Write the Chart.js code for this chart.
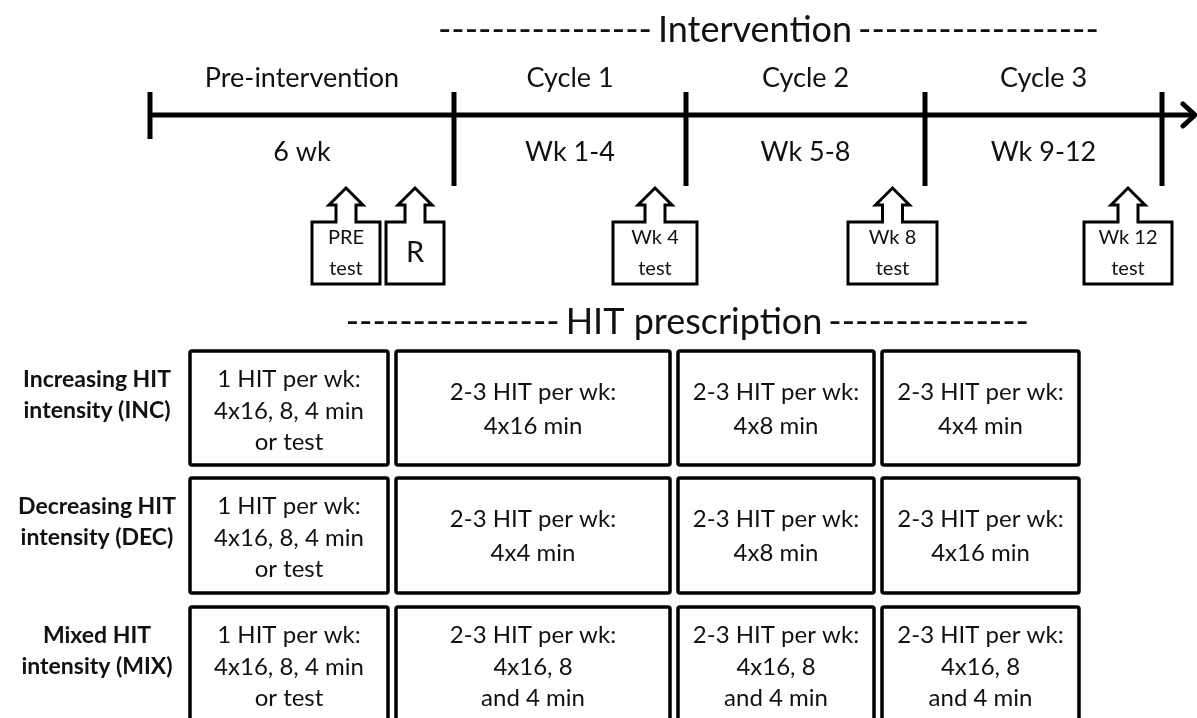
<!DOCTYPE html>
<html>
<head>
<meta charset="utf-8">
<script src="https://cdn.jsdelivr.net/npm/chart.js@4.4.1/dist/chart.umd.min.js"></script>
<style>
  html, body { margin: 0; padding: 0; background: #fff; overflow: hidden; }
</style>
</head>
<body>
<canvas id="chart" width="1197" height="718"></canvas>
<script>
// chart content
const headers = ['Intervention', 'HIT prescription'];
const phases = ['Pre-intervention', 'Cycle 1', 'Cycle 2', 'Cycle 3'];
const durations = ['6 wk', 'Wk 1-4', 'Wk 5-8', 'Wk 9-12'];
const tests = [['PRE', 'test'], ['R'], ['Wk 4', 'test'], ['Wk 8', 'test'], ['Wk 12', 'test']];
const groups = [['Increasing HIT', 'intensity (INC)'], ['Decreasing HIT', 'intensity (DEC)'], ['Mixed HIT', 'intensity (MIX)']];
const preRx = ['1 HIT per wk:', '4x16, 8, 4 min', 'or test'];
const cycleRx = '2-3 HIT per wk:';
const incCycles = [['4x16 min'], ['4x8 min'], ['4x4 min']];
const decCycles = [['4x4 min'], ['4x8 min'], ['4x16 min']];
const mixCycles = [['4x16, 8', 'and 4 min'], ['4x16, 8', 'and 4 min'], ['4x16, 8', 'and 4 min']];

// layout, in axis units (axes span the whole canvas)
const L = {
  bounds: [150, 454, 686, 925, 1162],
  arrowTip: 1195, lineY: 115, tickTop: 92, tickBot: 186, firstTickBot: 139,
  phaseY: 78, durY: 152,
  tests: [[312, 380], [386, 444], [613, 697], [848, 937], [1084, 1172]],
  testTop: 222, testBot: 284, headBase: 205, tip: 188, shaftHalf: 10, headHalf: 17,
  cols: [[190, 388], [396, 670], [678, 874], [882, 1079]],
  rows: [[351, 465], [478, 593], [607, 721]],
  labelX: 97,
  head1: { y: 30, left: 437, right: 1101, cx: 755 },
  head2: { y: 322, left: 339, right: 1032, cx: 694 }
};

const FONT = 'Lato, "Open Sans", sans-serif';
const INK = '#111';

function dashedHeader(ctx, sx, sy, text, h) {
  ctx.font = '36px ' + FONT;
  ctx.fillStyle = INK;
  ctx.textBaseline = 'middle';
  const y = sy(h.y);
  const tw = ctx.measureText(text).width;
  const cx = sx(h.cx);
  ctx.textAlign = 'center';
  ctx.fillText(text, cx, y);
  const dw = ctx.measureText('-').width;
  const gap = 6;
  const nL = Math.floor((cx - tw / 2 - gap - sx(h.left)) / dw);
  const nR = Math.floor((sx(h.right) - cx - tw / 2 - gap) / dw);
  ctx.textAlign = 'right';
  ctx.fillText('-'.repeat(nL), cx - tw / 2 - gap, y);
  ctx.textAlign = 'left';
  ctx.fillText('-'.repeat(nR), cx + tw / 2 + gap, y);
}

function lines(ctx, arr, x, yMid, lh) {
  const y0 = yMid - (arr.length - 1) * lh / 2;
  arr.forEach((t, i) => ctx.fillText(t, x, y0 + i * lh));
}

const diagram = {
  id: 'diagram',
  afterDatasetsDraw(chart) {
    const ctx = chart.ctx;
    const sx = v => chart.scales.x.getPixelForValue(v);
    const sy = v => chart.scales.y.getPixelForValue(v);
    ctx.save();

    // ticks on the timeline
    ctx.strokeStyle = '#000';
    ctx.lineWidth = 5;
    ctx.lineCap = 'butt';
    L.bounds.forEach((b, i) => {
      ctx.beginPath();
      ctx.moveTo(sx(b), sy(L.tickTop));
      ctx.lineTo(sx(b), sy(i === 0 ? L.firstTickBot : L.tickBot));
      ctx.stroke();
    });
    // arrow head
    ctx.lineCap = 'round';
    ctx.lineJoin = 'miter';
    ctx.beginPath();
    ctx.moveTo(sx(L.arrowTip - 12), sy(L.lineY - 11));
    ctx.lineTo(sx(L.arrowTip), sy(L.lineY));
    ctx.lineTo(sx(L.arrowTip - 12), sy(L.lineY + 11));
    ctx.stroke();

    // headers
    dashedHeader(ctx, sx, sy, headers[0], L.head1);
    dashedHeader(ctx, sx, sy, headers[1], L.head2);

    // phase names and durations
    ctx.font = '27px ' + FONT;
    ctx.textAlign = 'center';
    ctx.textBaseline = 'middle';
    ctx.fillStyle = INK;
    phases.forEach((p, i) => {
      const cx = sx((L.bounds[i] + L.bounds[i + 1]) / 2);
      ctx.fillText(p, cx, sy(L.phaseY));
      ctx.fillText(durations[i], cx, sy(L.durY));
    });

    // test markers
    ctx.lineWidth = 3;
    ctx.lineJoin = 'miter';
    ctx.lineCap = 'butt';
    tests.forEach((t, i) => {
      const [x0, x1] = L.tests[i];
      const c = (x0 + x1) / 2;
      ctx.beginPath();
      ctx.moveTo(sx(x0), sy(L.testBot));
      ctx.lineTo(sx(x0), sy(L.testTop));
      ctx.lineTo(sx(c - L.shaftHalf), sy(L.testTop));
      ctx.lineTo(sx(c - L.shaftHalf), sy(L.headBase));
      ctx.lineTo(sx(c - L.headHalf), sy(L.headBase));
      ctx.lineTo(sx(c), sy(L.tip));
      ctx.lineTo(sx(c + L.headHalf), sy(L.headBase));
      ctx.lineTo(sx(c + L.shaftHalf), sy(L.headBase));
      ctx.lineTo(sx(c + L.shaftHalf), sy(L.testTop));
      ctx.lineTo(sx(x1), sy(L.testTop));
      ctx.lineTo(sx(x1), sy(L.testBot));
      ctx.closePath();
      ctx.stroke();
      const mid = sy((L.testTop + L.testBot) / 2);
      if (t.length === 1) {
        ctx.font = '29px ' + FONT;
        ctx.fillText(t[0], sx(c), mid);
      } else {
        ctx.font = '20px ' + FONT;
        lines(ctx, t, sx(c), mid, 31);
      }
    });

    // prescription table
    const cycles = [incCycles, decCycles, mixCycles];
    ctx.lineWidth = 3.5;
    L.rows.forEach(([y0, y1], r) => {
      ctx.font = 'bold 23px ' + FONT;
      ctx.fillStyle = INK;
      lines(ctx, groups[r], sx(L.labelX), sy(y0 + 44), 31);
      L.cols.forEach(([x0, x1], c) => {
        ctx.beginPath();
        ctx.roundRect(sx(x0), sy(y0), sx(x1) - sx(x0), sy(y1) - sy(y0), 2);
        ctx.stroke();
        const txt = c === 0 ? preRx : [cycleRx].concat(cycles[r][c - 1]);
        ctx.font = '24px ' + FONT;
        const mid = sy(txt.length === 3 ? y0 + 60 : y0 + 58);
        lines(ctx, txt, sx((x0 + x1) / 2), mid, txt.length === 3 ? 31.5 : 34);
      });
    });

    ctx.restore();
  }
};

new Chart(document.getElementById('chart'), {
  type: 'line',
  data: {
    datasets: [{
      data: [{ x: L.bounds[0], y: L.lineY }, { x: L.arrowTip - 2, y: L.lineY }],
      borderColor: '#000',
      borderWidth: 5,
      borderCapStyle: 'butt',
      pointRadius: 0
    }]
  },
  options: {
    responsive: false,
    animation: false,
    events: [],
    layout: { padding: 0 },
    plugins: { legend: { display: false }, tooltip: { enabled: false } },
    scales: {
      x: { type: 'linear', min: 0, max: 1197, display: false },
      y: { type: 'linear', min: 0, max: 718, reverse: true, display: false }
    }
  },
  plugins: [diagram]
});
</script>
</body>
</html>
